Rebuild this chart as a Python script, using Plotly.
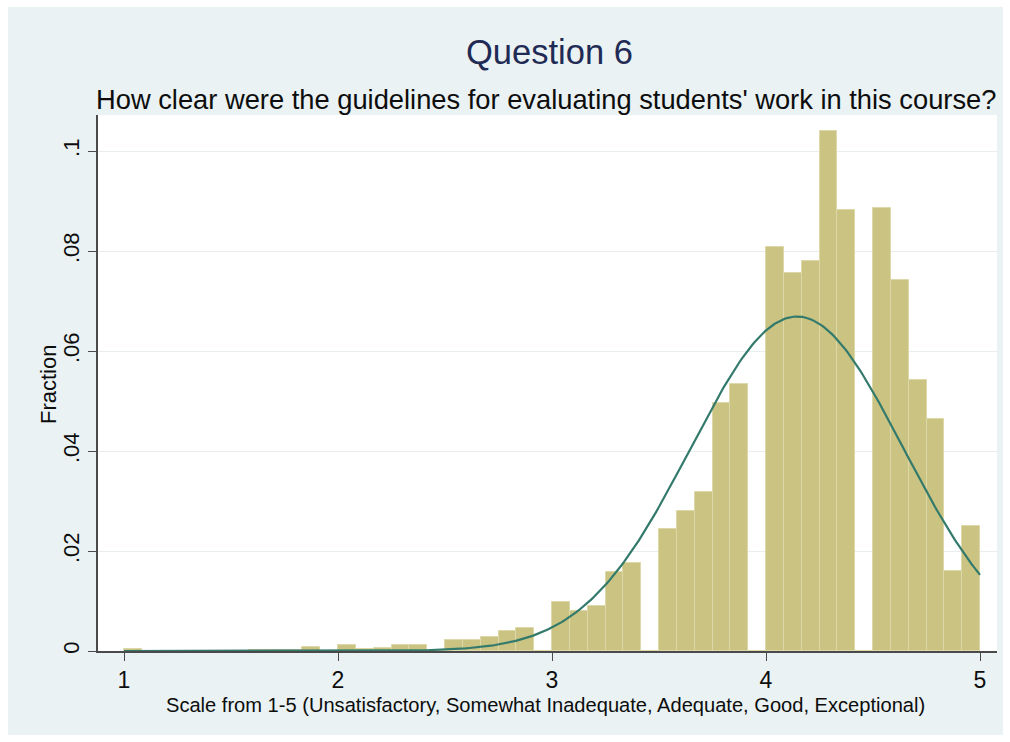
import plotly.graph_objects as go
import numpy as np

# ---- data ----
bin_start = 1.0
bin_width = 1.0 / 12.0
fractions = [
    0.0005, 0, 0, 0, 0, 0, 0, 0.0002, 0.0002, 0.0002, 0.0008, 0,
    0.0012, 0.0005, 0.0007, 0.0012, 0.0012, 0, 0.0023, 0.0023, 0.0029, 0.0041, 0.0046, 0,
    0.0098, 0.0081, 0.0091, 0.0159, 0.0177, 0, 0.0245, 0.0281, 0.0318, 0.0496, 0.0534, 0,
    0.0809, 0.0756, 0.0780, 0.1040, 0.0883, 0, 0.0887, 0.0743, 0.0543, 0.0465, 0.0160, 0.0250,
]
normal_mean = 4.145
normal_sd = 0.497
x_ticks = [1, 2, 3, 4, 5]
y_ticks = [0, 0.02, 0.04, 0.06, 0.08, 0.1]
y_tick_labels = ["0", ".02", ".04", ".06", ".08", ".1"]

title_text = "Question 6"
subtitle_text = "How clear were the guidelines for evaluating students' work in this course?"
x_title = "Scale from 1-5 (Unsatisfactory, Somewhat Inadequate, Adequate, Good, Exceptional)"
y_title = "Fraction"

# ---- derived ----
centers = [bin_start + (i + 0.5) * bin_width for i in range(len(fractions))]
xs = np.linspace(1, 5, 400)
ys = bin_width / (normal_sd * np.sqrt(2 * np.pi)) * np.exp(-0.5 * ((xs - normal_mean) / normal_sd) ** 2)

W, H = 1010, 742
L, R, T, B = 98, 13, 115, 91
pw, ph = W - L - R, H - T - B

def px(xp):
    return (xp - L) / pw

def py(yp):
    return (H - B - yp) / ph

FONT = "Liberation Sans, Arial, sans-serif"
BG = "#EAF2F3"
AXIS = "#4a4a4a"
TXT = "#0d0d0d"

fig = go.Figure()
fig.add_trace(go.Bar(
    x=centers, y=fractions, width=bin_width,
    marker=dict(color="#CBC382", line=dict(color="#DDD8AA", width=1)),
    showlegend=False, hoverinfo="x+y",
))
fig.add_trace(go.Scatter(
    x=xs, y=ys, mode="lines",
    line=dict(color="#337A6C", width=2.2),
    showlegend=False, hoverinfo="skip",
))

fig.update_layout(
    width=W, height=H,
    margin=dict(l=L, r=R, t=T, b=B),
    paper_bgcolor="white",
    plot_bgcolor="white",
    bargap=0,
    font=dict(family=FONT, color=TXT),
    shapes=[
        dict(type="rect", xref="paper", yref="paper",
             x0=px(8), x1=px(1003), y0=py(735), y1=py(7),
             fillcolor=BG, line=dict(width=0), layer="below"),
        dict(type="rect", xref="paper", yref="paper",
             x0=0, x1=1, y0=0, y1=1,
             fillcolor="white", line=dict(width=0), layer="below"),
    ],
    annotations=[
        dict(text=title_text, xref="paper", yref="paper", x=px(549), y=py(52),
             xanchor="center", yanchor="middle", showarrow=False,
             font=dict(size=34.5, color="#1F2B55", family=FONT)),
        dict(text=subtitle_text, xref="paper", yref="paper", x=px(546), y=py(100),
             xanchor="center", yanchor="middle", showarrow=False,
             font=dict(size=27.3, color=TXT, family=FONT)),
        dict(text=x_title, xref="paper", yref="paper", x=px(545.5), y=py(705),
             xanchor="center", yanchor="middle", showarrow=False,
             font=dict(size=20.1, color=TXT, family=FONT)),
        dict(text=y_title, xref="paper", yref="paper", x=px(48), y=py(385),
             xanchor="center", yanchor="middle", showarrow=False, textangle=-90,
             font=dict(size=22, color=TXT, family=FONT)),
    ],
)

fig.update_xaxes(
    range=[1 - 26 / 214, 5 + 17 / 214],
    tickvals=x_ticks, ticktext=[str(t) for t in x_ticks],
    ticks="outside", ticklen=8, tickwidth=1.3, tickcolor=AXIS,
    showline=True, linecolor=AXIS, linewidth=1.6,
    showgrid=False, zeroline=False,
    tickfont=dict(size=23, color=TXT, family=FONT),
)
fig.update_yaxes(
    range=[0, (H - B - T) / 5000],
    tickvals=y_ticks, ticktext=y_tick_labels, tickangle=-90,
    ticks="outside", ticklen=8, tickwidth=1.3, tickcolor=AXIS,
    showline=True, linecolor=AXIS, linewidth=1.6,
    showgrid=True, gridcolor="#E8EEF0", gridwidth=1.2,
    zeroline=False,
    tickfont=dict(size=22, color=TXT, family=FONT),
)

fig.write_html("out.html")
